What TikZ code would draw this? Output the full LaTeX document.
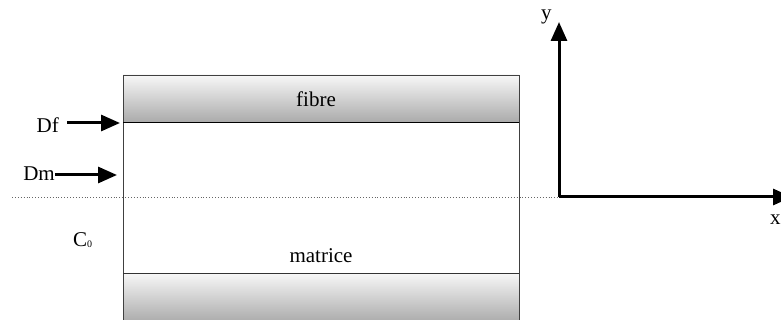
\documentclass[tikz,border=0pt]{standalone}
\usepackage{fontspec}
\setmainfont{Liberation Serif}
\usetikzlibrary{arrows.meta}
\begin{document}
\begin{tikzpicture}[x=1pt,y=-1pt,
  lbl/.style={inner sep=0pt,font=\fontsize{21}{21}\selectfont},
  thickarrow/.style={line width=3pt,-{Triangle[length=19pt,width=16pt]}},
  axis/.style={line width=3pt,-{Triangle[length=19pt,width=16pt]}}]
\useasboundingbox (0,0) rectangle (781,320);
% fibre band and lower band with gradient shading
\shade[top color=white!97!black,bottom color=black!33] (123,75) rectangle (519,122);
\shade[top color=white!97!black,bottom color=black!33] (123,273) rectangle (519,322);
% outline of the cell
\draw[black!75,line width=0.9pt] (123,322) -- (123,75) -- (519,75) -- (519,322);
\draw[black,line width=0.9pt] (123,122) -- (519,122);
\draw[black!80,line width=0.9pt] (123,273) -- (519,273);
% axes origin and symmetry line
\coordinate (o) at (559,197);
\coordinate (ytip) at (559,22);
\coordinate (xtip) at (792,197);
\coordinate (dstart) at (12,197);
\draw[black!60,line width=0.9pt,dotted] (dstart) -- (o);
\draw[axis] (o) -- (ytip);
\draw[axis] (o) -- (xtip);
\node[lbl,anchor=base west] (ylab) at (541,20) {y};
\node[lbl,anchor=base west] (xlab) at (770,225) {x};
% labels
\node[lbl,anchor=base] (fibre) at (316,107) {fibre};
\node[lbl,anchor=base] (matrice) at (321,262) {matrice};
\node[lbl,anchor=base east] (df) at (59,133) {Df};
\node[lbl,anchor=base east] (dm) at (55,181) {Dm};
\node[lbl,anchor=base west] (c0) at (73,247) {C\raisebox{-1pt}{\fontsize{10}{10}\selectfont 0}};
% interface arrows
\coordinate (dfstart) at (67,123);
\coordinate (dfend) at (120,123);
\coordinate (dmstart) at (55,175);
\coordinate (dmend) at (117,175);
\draw[thickarrow] (dfstart) -- (dfend);
\draw[thickarrow] (dmstart) -- (dmend);
\end{tikzpicture}
\end{document}
